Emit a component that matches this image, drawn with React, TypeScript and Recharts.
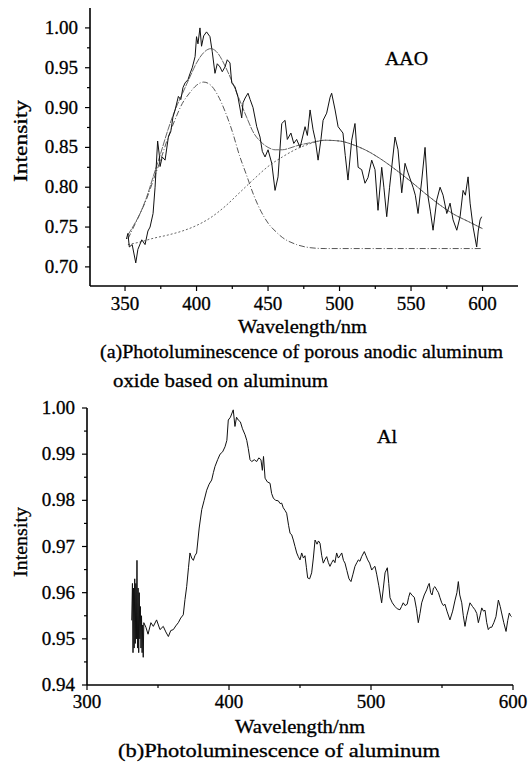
import { Line, LineChart, XAxis, YAxis } from "recharts";

const FONT = "Liberation Serif";

// (a) AAO photoluminescence: measured spectrum, [wavelength nm, intensity]
const aaoRaw: [number, number][] = [
  [351, 0.735], [352, 0.742], [353, 0.725], [355, 0.728], [357.5, 0.705], [359, 0.722],
  [361.7, 0.734], [364, 0.728], [366, 0.745], [367.5, 0.75], [369.6, 0.767], [371, 0.8],
  [372.8, 0.858], [374, 0.84], [374.5, 0.826], [376, 0.838], [378, 0.834], [380.3, 0.863],
  [382, 0.87], [383.5, 0.888], [385, 0.897], [387.3, 0.914], [389, 0.91], [390.5, 0.925],
  [392, 0.931], [394, 0.935], [395.5, 0.943], [397, 0.95], [399, 0.964], [400, 0.989],
  [401, 0.98], [402.4, 1.0], [403.5, 0.977], [405, 0.99], [407, 0.995], [409.4, 0.989],
  [411, 0.97], [412.9, 0.943], [414.5, 0.955], [416.4, 0.951], [418, 0.945], [419.9, 0.951],
  [421.5, 0.96], [423.4, 0.956], [424.6, 0.931], [426.9, 0.926], [429, 0.913], [431.6, 0.887],
  [432.5, 0.906], [434, 0.912], [436, 0.918], [437.5, 0.91], [439.5, 0.9], [442.1, 0.876],
  [444.4, 0.863], [446, 0.845], [447.9, 0.838], [450, 0.847], [452.6, 0.83], [454.9, 0.796],
  [457, 0.813], [459.6, 0.88], [461.9, 0.884], [463.5, 0.86], [466, 0.868], [468, 0.855],
  [470, 0.86], [472.4, 0.85], [475.9, 0.876], [477.5, 0.865], [479.4, 0.897], [481.5, 0.872],
  [483, 0.86], [485, 0.834], [487, 0.86], [488.5, 0.884], [491, 0.893], [493.4, 0.913],
  [494.5, 0.918], [496.9, 0.897], [499, 0.876], [502.4, 0.868], [504, 0.84], [505.9, 0.809],
  [508.5, 0.859], [510.8, 0.88], [513, 0.825], [515.5, 0.822], [517.8, 0.805], [519.9, 0.812],
  [522.5, 0.834], [524.8, 0.822], [526.9, 0.771], [529.5, 0.825], [531, 0.8], [533, 0.763],
  [535, 0.8], [536.5, 0.825], [538.8, 0.863], [540.9, 0.847], [543.5, 0.793], [545.8, 0.83],
  [547.9, 0.818], [551.4, 0.8], [553, 0.79], [554.9, 0.767], [557.5, 0.809], [559.8, 0.85],
  [561.9, 0.788], [563.5, 0.77], [565.4, 0.746], [568, 0.784], [570.3, 0.8], [572.4, 0.79],
  [575, 0.767], [577.3, 0.78], [579.4, 0.759], [582, 0.746], [584.3, 0.763], [586.4, 0.796],
  [588, 0.79], [589.9, 0.813], [591.3, 0.78], [593.4, 0.75], [595.9, 0.725], [597, 0.745],
  [598.3, 0.759], [599.4, 0.763],
];

// fitted envelope (sum of the two peaks)
const aaoFit: [number, number][] = [
  [352, 0.74], [356, 0.752], [360, 0.765], [365, 0.787], [370, 0.815], [375, 0.843],
  [380, 0.872], [385, 0.897], [390, 0.917], [395, 0.937], [400, 0.956], [405, 0.969],
  [410, 0.974], [415, 0.968], [420, 0.952], [425, 0.932], [430, 0.91], [435, 0.888],
  [440, 0.868], [445, 0.857], [450, 0.85], [455, 0.847], [460, 0.847], [465, 0.849],
  [470, 0.852], [480, 0.856], [490, 0.859], [500, 0.858], [510, 0.853], [520, 0.845],
  [530, 0.834], [540, 0.821], [550, 0.807], [560, 0.792], [570, 0.778], [580, 0.766],
  [590, 0.757], [600, 0.748],
];

// first Gaussian component (~405 nm)
const aaoPeak1: [number, number][] = [
  [352, 0.735], [356, 0.75], [360, 0.765], [365, 0.785], [370, 0.81], [375, 0.835],
  [380, 0.862], [385, 0.885], [390, 0.905], [395, 0.918], [400, 0.928], [405, 0.932],
  [410, 0.928], [415, 0.915], [420, 0.895], [425, 0.87], [430, 0.84], [435, 0.815],
  [440, 0.79], [445, 0.77], [450, 0.755], [455, 0.745], [460, 0.737], [470, 0.728],
  [480, 0.724], [490, 0.723], [600, 0.723],
];

// second Gaussian component (~495 nm)
const aaoPeak2: [number, number][] = [
  [352, 0.728], [360, 0.731], [370, 0.736], [380, 0.74], [390, 0.745], [400, 0.752],
  [410, 0.762], [420, 0.776], [430, 0.793], [440, 0.81], [450, 0.826], [460, 0.838],
  [470, 0.848], [480, 0.855], [490, 0.859], [500, 0.858], [510, 0.853], [520, 0.845],
  [530, 0.834], [540, 0.821], [550, 0.807], [560, 0.792], [570, 0.778], [580, 0.766],
  [590, 0.757], [600, 0.748],
];

// (b) bare aluminum photoluminescence
const alRaw: [number, number][] = [
  [331.5, 0.954], [332, 0.962], [332.4, 0.947], [332.8, 0.961], [333.2, 0.948], [333.6, 0.963],
  [334, 0.949], [334.4, 0.962], [334.8, 0.95], [335.2, 0.967], [335.6, 0.948], [336, 0.961],
  [336.4, 0.947], [336.8, 0.96], [337.2, 0.95], [337.6, 0.957], [338, 0.948], [338.4, 0.955],
  [338.8, 0.947], [339.2, 0.953], [339.6, 0.946], [340, 0.9535], [341.5, 0.9525], [343, 0.951],
  [345, 0.9535], [346.7, 0.9527], [349, 0.9541], [351.4, 0.952], [353.7, 0.9527], [355.5, 0.9515],
  [357.3, 0.9505], [359, 0.9518], [360.8, 0.952], [362.5, 0.9528], [364.3, 0.9535], [366, 0.9545],
  [367.8, 0.9552], [369, 0.9585], [370.2, 0.9613], [371.5, 0.9655], [372.5, 0.9686], [373.7, 0.9675],
  [374.9, 0.967], [376, 0.968], [377.2, 0.9686], [379, 0.974], [380.8, 0.978], [382.5, 0.98],
  [384.3, 0.9822], [386, 0.9835], [387.8, 0.9844], [389, 0.986], [390.1, 0.9873], [392, 0.9888],
  [393.7, 0.99], [395.5, 0.9905], [397.2, 0.9916], [398.5, 0.993], [399.5, 0.9974], [401, 0.998],
  [403, 0.9996], [404.2, 0.996], [405.3, 0.998], [406.5, 0.9974], [408, 0.997], [409.5, 0.9955],
  [411.3, 0.9942], [412.5, 0.993], [413.6, 0.9912], [414.8, 0.9888], [416, 0.9884], [417.8, 0.9888],
  [419.5, 0.9884], [421, 0.9892], [422.5, 0.9888], [423.5, 0.9865], [424.3, 0.9895], [425.4, 0.9848],
  [427, 0.984], [428.9, 0.9837], [430, 0.9815], [431.2, 0.9805], [432.8, 0.98], [434.7, 0.9799],
  [436, 0.9793], [437.1, 0.9794], [438.2, 0.9784], [439.5, 0.9778], [440.6, 0.9772], [442, 0.9745],
  [443, 0.9729], [444.2, 0.9725], [445.3, 0.9714], [446.5, 0.97], [447.7, 0.9686], [448.8, 0.9678],
  [450, 0.9671], [451.2, 0.9686], [452.4, 0.9675], [453.5, 0.968], [454.5, 0.9655], [455.4, 0.9632],
  [456.8, 0.963], [458.2, 0.9643], [459.4, 0.9675], [460.6, 0.9714], [462, 0.9705], [463, 0.9712],
  [464.1, 0.9707], [465.3, 0.968], [466.4, 0.9664], [467.6, 0.9672], [468.8, 0.9678], [470, 0.9665],
  [471.1, 0.9657], [472.3, 0.9665], [473.5, 0.9671], [474.6, 0.9665], [475.8, 0.9686], [477, 0.9675],
  [478.2, 0.968], [479.4, 0.9686], [480.6, 0.967], [481.7, 0.9664], [483, 0.9648], [484.5, 0.963],
  [485.9, 0.9624], [487.3, 0.964], [488.7, 0.9657], [490, 0.9665], [491.1, 0.9671], [492.2, 0.9668],
  [493.4, 0.9678], [495.3, 0.9689], [496.5, 0.968], [497.7, 0.9671], [499, 0.9664], [500.5, 0.9649],
  [502, 0.9655], [502.8, 0.9657], [504, 0.964], [505.5, 0.9615], [507.5, 0.9578], [508.7, 0.961],
  [509.9, 0.9643], [511.5, 0.9654], [512.5, 0.962], [513.4, 0.9589], [515, 0.9578], [516.9, 0.957],
  [518.5, 0.9565], [520.4, 0.9563], [521.5, 0.957], [522.7, 0.9578], [524, 0.9572], [525.5, 0.9575],
  [526.5, 0.959], [527.5, 0.96], [529, 0.9594], [530.5, 0.959], [532, 0.9565], [533.3, 0.9535],
  [534.5, 0.9555], [535.7, 0.9578], [537.5, 0.9595], [539.2, 0.9606], [540.2, 0.9615], [541, 0.962],
  [542, 0.96], [543, 0.9595], [544, 0.961], [545, 0.9613], [546.5, 0.9605], [547.5, 0.96],
  [548.5, 0.959], [549.8, 0.9578], [551, 0.9572], [552.1, 0.9575], [553.5, 0.956], [555.6, 0.9541],
  [557.5, 0.956], [559.2, 0.9584], [560.5, 0.96], [561.5, 0.9624], [562.5, 0.9595], [563.9, 0.9578],
  [565, 0.955], [566.2, 0.9527], [567.5, 0.955], [569.7, 0.9578], [571.5, 0.957], [573.2, 0.9563],
  [574.5, 0.9555], [575.6, 0.9535], [576.8, 0.955], [578, 0.9567], [579.2, 0.956], [580.3, 0.9562],
  [581.5, 0.9535], [582.6, 0.952], [583.8, 0.9525], [585, 0.9525], [586.5, 0.9535], [588, 0.9548],
  [589.7, 0.9584], [591, 0.957], [592, 0.9556], [593.5, 0.9535], [595.1, 0.9516], [596.3, 0.954],
  [597.4, 0.9556], [598.3, 0.955], [599, 0.9548],
];

const aaoXTicks = [350, 375, 400, 425, 450, 475, 500, 525, 550, 575, 600];
const aaoXLabels = [350, 400, 450, 500, 550, 600];
const aaoYTicks = [0.7, 0.725, 0.75, 0.775, 0.8, 0.825, 0.85, 0.875, 0.9, 0.925, 0.95, 0.975, 1.0];
const aaoYLabels = [0.7, 0.75, 0.8, 0.85, 0.9, 0.95, 1.0];

const alXTicks = [300, 350, 400, 450, 500, 550, 600];
const alXLabels = [300, 400, 500, 600];
const alYTicks = [0.94, 0.945, 0.95, 0.955, 0.96, 0.965, 0.97, 0.975, 0.98, 0.985, 0.99, 0.995, 1.0];
const alYLabels = [0.94, 0.95, 0.96, 0.97, 0.98, 0.99, 1.0];

const toPoints = (arr: [number, number][]) => arr.map(([w, v]) => ({ w, v }));

const isIn = (list: number[], v: number) => list.some((l) => Math.abs(l - v) < 1e-6);

function XTick(props: any) {
  const { x, y, payload, labels, gap } = props;
  const major = isIn(labels, payload.value);
  return (
    <g>
      <line x1={x} y1={y} x2={x} y2={y + (major ? 5 : 3)} stroke="#000" strokeWidth={1.2} />
      {major && (
        <text x={x} y={y + gap} textAnchor="middle" fontSize={19} fontFamily={FONT} fill="#000" stroke="#000" strokeWidth={0.3}>
          {payload.value}
        </text>
      )}
    </g>
  );
}

function YTick(props: any) {
  const { x, y, payload, labels } = props;
  const major = isIn(labels, payload.value);
  return (
    <g>
      <line x1={x} y1={y} x2={x - (major ? 5 : 3)} y2={y} stroke="#000" strokeWidth={1.2} />
      {major && (
        <text x={x - 12} y={y + 6} textAnchor="end" fontSize={19} fontFamily={FONT} fill="#000" stroke="#000" strokeWidth={0.3}>
          {payload.value.toFixed(2)}
        </text>
      )}
    </g>
  );
}

const axisLine = { stroke: "#000", strokeWidth: 1.6 };

export default function App() {
  return (
    <div style={{ position: "absolute", left: 0, top: 0, width: 529, height: 771, background: "#fff" }}>
      <div style={{ position: "absolute", left: 0, top: 0 }}>
        <LineChart width={529} height={320} margin={{ top: 8, right: 11, bottom: 4, left: 40 }}>
          <XAxis
            dataKey="w"
            type="number"
            domain={[325.5, 624.8]}
            allowDataOverflow
            ticks={aaoXTicks}
            interval={0}
            tickLine={false}
            tickSize={0}
            tickMargin={0}
            height={30}
            axisLine={axisLine}
            tick={<XTick labels={aaoXLabels} gap={24} />}
          />
          <YAxis
            type="number"
            domain={[0.676, 1.025]}
            allowDataOverflow
            ticks={aaoYTicks}
            interval={0}
            tickLine={false}
            tickSize={0}
            tickMargin={0}
            width={50}
            axisLine={axisLine}
            tick={<YTick labels={aaoYLabels} />}
          />
          <Line data={toPoints(aaoPeak2)} dataKey="v" type="monotone" stroke="#555" strokeWidth={0.9} strokeDasharray="2 2" dot={false} isAnimationActive={false} />
          <Line data={toPoints(aaoPeak1)} dataKey="v" type="monotone" stroke="#444" strokeWidth={0.9} strokeDasharray="6 2 1 2" dot={false} isAnimationActive={false} />
          <Line data={toPoints(aaoFit)} dataKey="v" type="monotone" stroke="#555" strokeWidth={0.9} strokeDasharray="7 1" dot={false} isAnimationActive={false} />
          <Line data={toPoints(aaoRaw)} dataKey="v" type="linear" stroke="#111" strokeWidth={1} dot={false} isAnimationActive={false} />
        </LineChart>
      </div>
      <div style={{ position: "absolute", left: 0, top: 390 }}>
        <LineChart width={529} height={330} margin={{ top: 18, right: 16, bottom: 5, left: 37 }}>
          <XAxis
            dataKey="w"
            type="number"
            domain={[300, 600]}
            allowDataOverflow
            ticks={alXTicks}
            interval={0}
            tickLine={false}
            tickSize={0}
            tickMargin={0}
            height={30}
            axisLine={axisLine}
            tick={<XTick labels={alXLabels} gap={23} />}
          />
          <YAxis
            type="number"
            domain={[0.94, 1.0]}
            allowDataOverflow
            ticks={alYTicks}
            interval={0}
            tickLine={false}
            tickSize={0}
            tickMargin={0}
            width={50}
            axisLine={axisLine}
            tick={<YTick labels={alYLabels} />}
          />
          <Line data={toPoints(alRaw)} dataKey="v" type="linear" stroke="#111" strokeWidth={1} dot={false} isAnimationActive={false} />
        </LineChart>
      </div>
      <svg
        width={529}
        height={771}
        style={{ position: "absolute", left: 0, top: 0, pointerEvents: "none" }}
        fontFamily={FONT}
        fill="#000"
        stroke="#000"
        strokeWidth={0.3}
      >
        <text x={385} y={65} fontSize={18} textLength={43} lengthAdjust="spacingAndGlyphs">AAO</text>
        <text x={27} y={141} fontSize={18} textAnchor="middle" transform="rotate(-90 27 141)" textLength={82} lengthAdjust="spacingAndGlyphs">Intensity</text>
        <text x={238} y={333} fontSize={18} textLength={129} lengthAdjust="spacingAndGlyphs">Wavelength/nm</text>
        <text x={100} y={358} fontSize={18} textLength={403} lengthAdjust="spacingAndGlyphs">(a)Photoluminescence of porous anodic aluminum</text>
        <text x={113} y={387} fontSize={18} textLength={215} lengthAdjust="spacingAndGlyphs">oxide based on aluminum</text>
        <text x={377} y={443} fontSize={18} textLength={20} lengthAdjust="spacingAndGlyphs">Al</text>
        <text x={27} y={542} fontSize={18} textAnchor="middle" transform="rotate(-90 27 542)" textLength={70} lengthAdjust="spacingAndGlyphs">Intensity</text>
        <text x={235} y={733} fontSize={18} textLength={130} lengthAdjust="spacingAndGlyphs">Wavelength/nm</text>
        <text x={118} y={757} fontSize={18} textLength={322} lengthAdjust="spacingAndGlyphs">(b)Photoluminescence of aluminum</text>
      </svg>
    </div>
  );
}
